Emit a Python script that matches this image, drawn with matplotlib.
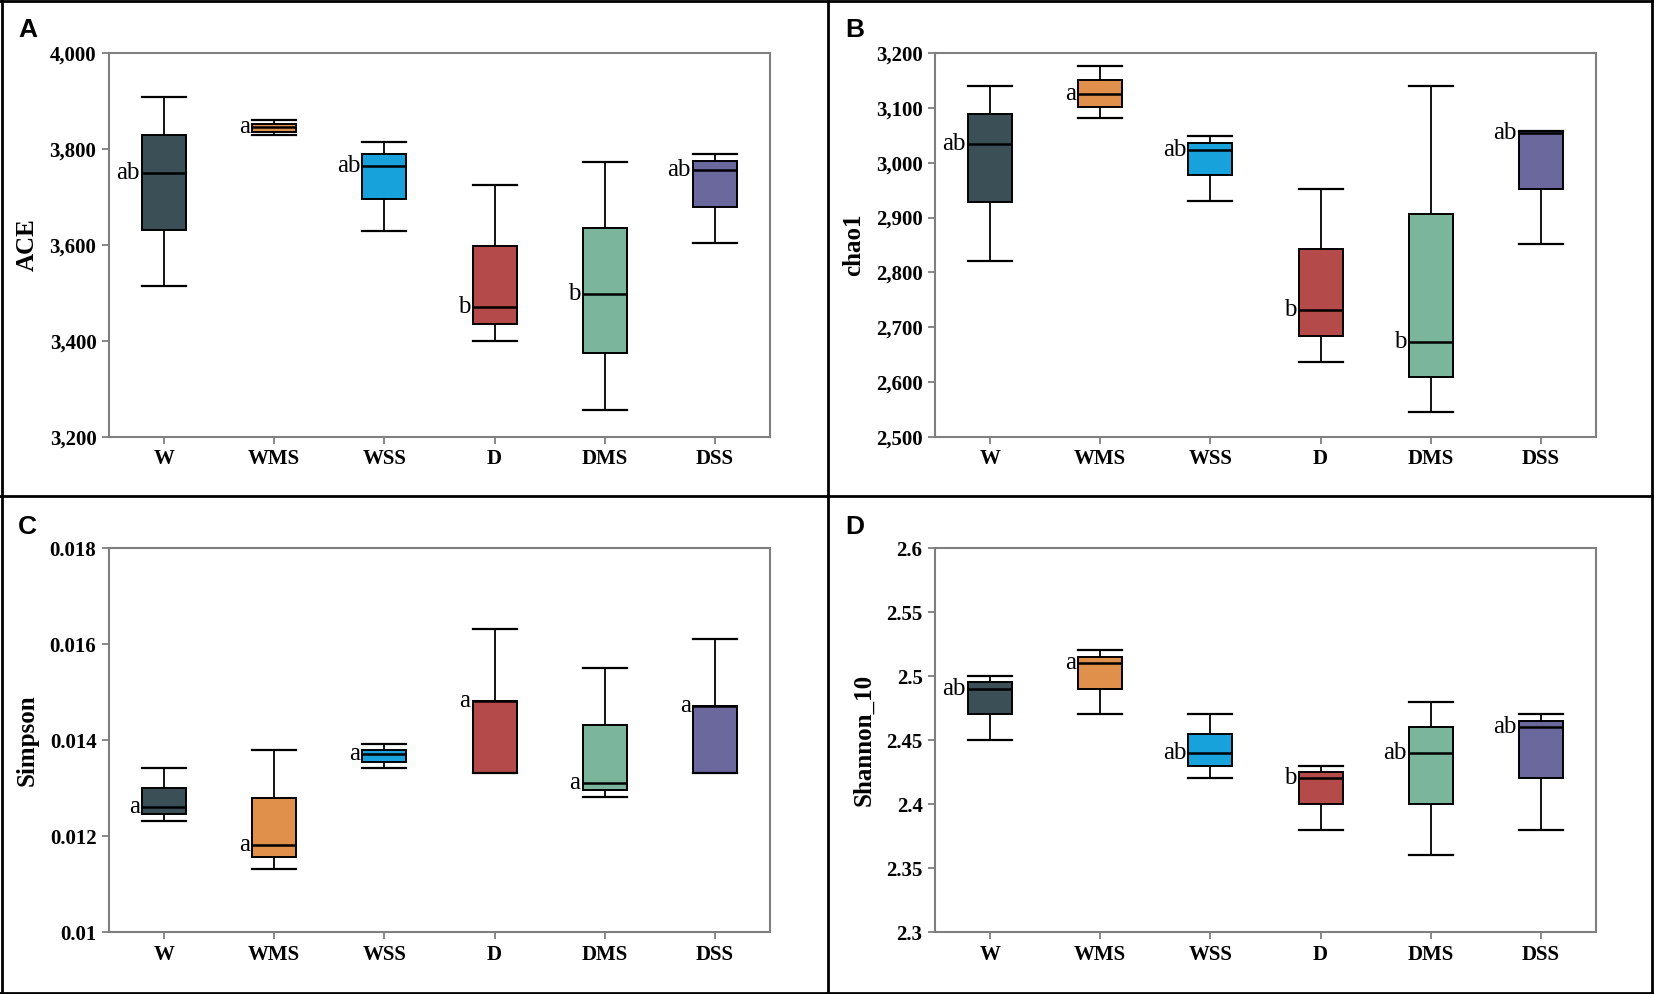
import numpy as np
import matplotlib
matplotlib.use('Agg')
import matplotlib.pyplot as plt
from matplotlib.ticker import FuncFormatter
from matplotlib.lines import Line2D

groups = ['W', 'WMS', 'WSS', 'D', 'DMS', 'DSS']
colors = ['#3a4f56', '#e0904a', '#17a2db', '#b44a4a', '#7bb59b', '#6b689e']

# ACE
ace_lo = [3515, 3830, 3629, 3399, 3256, 3604]
ace_q1 = [3632, 3836, 3696, 3435, 3376, 3680]
ace_med = [3750, 3845, 3765, 3471, 3497, 3757]
ace_q3 = [3829, 3853, 3790, 3597, 3635, 3774]
ace_hi = [3908, 3860, 3815, 3725, 3773, 3790]
ace_sig = ['ab', 'a', 'ab', 'b', 'b', 'ab']

# chao1
chao_lo = [2821, 3081, 2930, 2637, 2546, 2851]
chao_q1 = [2928, 3102, 2977, 2684, 2610, 2952]
chao_med = [3034, 3125, 3024, 2731, 2674, 3054]
chao_q3 = [3088, 3151, 3036, 2842, 2906, 3057]
chao_hi = [3139, 3177, 3048, 2952, 3139, 3057]
chao_sig = ['ab', 'a', 'ab', 'b', 'b', 'ab']

# Simpson
simp_lo = [0.01231, 0.01131, 0.01341, 0.01331, 0.01281, 0.01331]
simp_q1 = [0.01245, 0.01156, 0.01355, 0.01331, 0.01295, 0.01331]
simp_med = [0.01261, 0.01181, 0.01370, 0.01481, 0.01311, 0.01471]
simp_q3 = [0.01300, 0.01280, 0.01380, 0.01481, 0.01431, 0.01471]
simp_hi = [0.01341, 0.01380, 0.01391, 0.01631, 0.01551, 0.01611]
simp_sig = ['a', 'a', 'a', 'a', 'a', 'a']

# Shannon_10
shan_lo = [2.450, 2.470, 2.420, 2.380, 2.360, 2.380]
shan_q1 = [2.470, 2.490, 2.430, 2.400, 2.400, 2.420]
shan_med = [2.490, 2.510, 2.440, 2.420, 2.440, 2.460]
shan_q3 = [2.495, 2.515, 2.455, 2.425, 2.460, 2.465]
shan_hi = [2.500, 2.520, 2.470, 2.430, 2.480, 2.470]
shan_sig = ['ab', 'a', 'ab', 'b', 'ab', 'ab']

panels = [
    ('A', 'ACE', (ace_lo, ace_q1, ace_med, ace_q3, ace_hi), ace_sig, (3200, 4000), 200, '{:,.0f}'),
    ('B', 'chao1', (chao_lo, chao_q1, chao_med, chao_q3, chao_hi), chao_sig, (2500, 3200), 100, '{:,.0f}'),
    ('C', 'Simpson', (simp_lo, simp_q1, simp_med, simp_q3, simp_hi), simp_sig, (0.010, 0.018), 0.002, '{:g}'),
    ('D', 'Shannon_10', (shan_lo, shan_q1, shan_med, shan_q3, shan_hi), shan_sig, (2.30, 2.60), 0.05, '{:g}'),
]

W, H = 1654, 994
fig = plt.figure(figsize=(W / 100, H / 100), dpi=100)

# axes boxes in pixels: left, top
boxes = [(109, 53), (935, 53), (109, 548), (935, 548)]
aw, ah = 661, 384
letter_pos = [(18, 30), (845, 30), (18, 527), (845, 527)]

serif = 'Liberation Serif'
pos = np.arange(1, len(groups) + 1)
box_w = 0.4

for (letter, ylab, st, sig, ylim, step, fmt), (lx, ty), (px, py) in zip(panels, boxes, letter_pos):
    ax = fig.add_axes([lx / W, 1 - (ty + ah) / H, aw / W, ah / H])
    lo, q1, med, q3, hi = st
    stats = [dict(whislo=lo[i], q1=q1[i], med=med[i], q3=q3[i], whishi=hi[i], fliers=[])
             for i in range(len(groups))]
    bp = ax.bxp(stats, positions=pos, widths=box_w, capwidths=box_w, patch_artist=True,
                showfliers=False,
                boxprops=dict(edgecolor='black', linewidth=1.4),
                medianprops=dict(color='black', linewidth=1.8),
                whiskerprops=dict(color='black', linewidth=1.3),
                capprops=dict(color='black', linewidth=1.6))
    for patch, c in zip(bp['boxes'], colors):
        patch.set_facecolor(c)

    for i, s in enumerate(sig):
        ax.text(pos[i] - box_w / 2 - 0.02, med[i], s, ha='right', va='center',
                fontsize=18, family=serif)

    ax.set_xlim(0.5, 6.5)
    ax.set_ylim(*ylim)
    ticks = np.arange(ylim[0], ylim[1] + step / 2, step)
    ax.set_yticks(ticks)
    ax.yaxis.set_major_formatter(FuncFormatter(lambda v, p, f=fmt: f.format(round(v, 6))))
    ax.set_xticks(pos)
    ax.set_xticklabels(groups)
    for lab in ax.get_xticklabels() + ax.get_yticklabels():
        lab.set_family(serif)
        lab.set_fontweight('bold')
        lab.set_fontsize(15)
    ax.tick_params(direction='out', length=5, width=1.3, color='#7f7f7f', pad=4)
    for sp in ax.spines.values():
        sp.set_color('#7f7f7f')
        sp.set_linewidth(1.5)
    ax.set_ylabel(ylab, family=serif, fontweight='bold', fontsize=18, labelpad=8)

    fig.text(px / W, 1 - py / H, letter, ha='left', va='center', fontsize=19,
             fontweight='bold', family='Liberation Sans')

# panel frame lines
lw = 2.0
fig.add_artist(Line2D([828 / W, 828 / W], [0, 1], color='black', lw=lw))
fig.add_artist(Line2D([0, 1], [1 - 496 / H, 1 - 496 / H], color='black', lw=lw))
for xs, ys in [([0.001, 0.001], [0, 1]), ([0.999, 0.999], [0, 1]),
               ([0, 1], [0.001, 0.001]), ([0, 1], [0.999, 0.999])]:
    fig.add_artist(Line2D(xs, ys, color='black', lw=lw))

fig.savefig('out.png', dpi=100, facecolor='white')
